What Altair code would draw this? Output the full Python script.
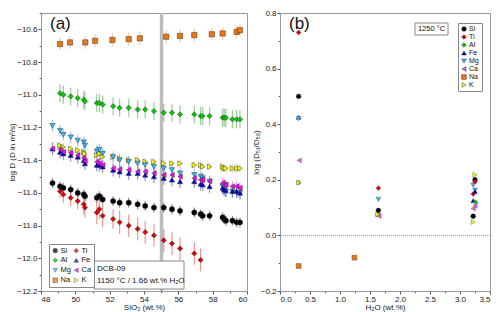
import altair as alt
import pandas as pd

FONT = "Liberation Sans"

# ---------------- Panel (a): log D vs SiO2 ----------------
sio2 = [48.67, 49.11, 49.30, 49.73, 50.14, 50.49, 50.56, 51.25, 51.40, 51.59,
        52.20, 52.58, 53.11, 53.63, 54.07, 54.58, 55.15, 55.63, 56.10, 56.93,
        57.30, 57.42, 57.82, 58.58, 58.67, 58.77, 59.15, 59.40, 59.59]

si = [-11.54, -11.56, -11.57, -11.58, -11.60, -11.61, -11.62, -11.63, -11.62, -11.64,
      -11.65, -11.66, -11.66, -11.67, -11.68, -11.69, -11.69, -11.70, -11.71, -11.72,
      -11.73, -11.74, -11.74, -11.75, -11.76, -11.77, -11.77, -11.78, -11.78]
ti = [-11.59, -11.61, -11.63, -11.65, -11.67, -11.69, -11.72, -11.70, -11.74, -11.76,
      -11.78, -11.80, -11.82, -11.84, -11.86, -11.89, -11.91, -11.94, -11.97, -12.01]
ti_err = [0.04, 0.05, 0.05, 0.05, 0.06, 0.06, 0.07, 0.06, 0.07, 0.06,
          0.07, 0.07, 0.07, 0.07, 0.07, 0.07, 0.07, 0.07, 0.07, 0.07]
al = [-10.99, -11.00, -11.01, -11.02, -11.03, -11.04, -11.05, -11.05, -11.06,
      -11.07, -11.08, -11.08, -11.09, -11.09, -11.10, -11.11, -11.11, -11.12, -11.12,
      -11.13, -11.13, -11.13, -11.14, -11.14, -11.14, -11.15, -11.15, -11.15]
fe = [-11.33, -11.35, -11.36, -11.37, -11.38, -11.40, -11.42, -11.43, -11.43, -11.44,
      -11.46, -11.47, -11.48, -11.48, -11.49, -11.50, -11.51, -11.52, -11.53, -11.53,
      -11.545, -11.55, -11.56, -11.57, -11.58, -11.585, -11.59, -11.59, -11.60]
mg = [-11.19, -11.22, -11.245, -11.26, -11.28, -11.29, -11.31, -11.345, -11.335, -11.36,
      -11.38, -11.40, -11.41, -11.42, -11.43, -11.44, -11.45, -11.46, -11.48, -11.49,
      -11.50, -11.51, -11.53, -11.56, -11.58, -11.59, -11.59, -11.60, -11.60]
ca = [-11.33, -11.335, -11.35, -11.355, -11.37, -11.385, -11.405, -11.41, -11.42, -11.43,
      -11.45, -11.455, -11.46, -11.47, -11.47, -11.48, -11.49, -11.49, -11.50, -11.51,
      -11.52, -11.52, -11.53, -11.54, -11.55, -11.55, -11.56, -11.56, -11.57]
k = [-11.31, -11.32, -11.33, -11.34, -11.35, -11.36, -11.37, -11.36, -11.38,
     -11.38, -11.39, -11.40, -11.40, -11.41, -11.41, -11.42, -11.42, -11.42, -11.43,
     -11.43, -11.44, -11.44, -11.44, -11.45, -11.45, -11.45, -11.45, -11.45]
na_sio2 = [49.11, 49.69, 50.58, 51.15, 52.16, 53.11, 53.76, 55.29, 56.10, 56.93,
           57.95, 58.58, 59.40, 59.59]
na = [-10.69, -10.68, -10.68, -10.67, -10.665, -10.66, -10.655, -10.645, -10.64, -10.635,
      -10.63, -10.625, -10.615, -10.605]

errs = {"Si": 0.03, "Al": 0.055, "Fe": 0.04, "Mg": 0.035, "Ca": 0.03, "Na": 0.04, "K": 0.025}
band_sio2 = 55.02

# ---------------- Panel (b): log(D51/D59) vs H2O ----------------
b_elem = ["Ti", "Si", "Fe", "Mg", "Ca", "Al", "K", "Na",
          "Na",
          "Ti", "Mg", "Si", "Fe", "Al", "K", "Ca",
          "Mg", "Ti", "Fe", "Ca", "Si", "K",
          "K", "Si", "Ti", "Mg", "Fe", "Al", "Ca"]
b_h2o = [0.31, 0.31, 0.31, 0.31, 0.32, 0.31, 0.31, 0.31,
         1.24,
         1.64, 1.64, 1.64, 1.64, 1.63, 1.63, 1.65,
         3.22, 3.22, 3.22, 3.22, 3.22, 3.22,
         3.25, 3.25, 3.25, 3.25, 3.25, 3.26, 3.25]
b_val = [0.73, 0.50, 0.425, 0.42, 0.27, 0.19, 0.19, -0.11,
         -0.08,
         0.17, 0.13, 0.09, 0.078, 0.075, 0.075, 0.07,
         0.181, 0.149, 0.125, 0.097, 0.069, 0.048,
         0.218, 0.20, 0.193, 0.163, 0.158, 0.119, 0.107]

# axis tick values (major + minor)
xa_ticks = [48, 49, 50, 51, 52, 53, 54, 55, 56, 57, 58, 59, 60]
ya_ticks = [-10.5, -10.6, -10.7, -10.8, -10.9, -11.0, -11.1, -11.2, -11.3, -11.4, -11.5,
            -11.6, -11.7, -11.8, -11.9, -12.0, -12.1, -12.2]
xb_ticks = [0, 0.25, 0.5, 0.75, 1.0, 1.25, 1.5, 1.75, 2.0, 2.25, 2.5, 2.75, 3.0, 3.25, 3.5]
yb_ticks = [-0.2, -0.1, 0.0, 0.1, 0.2, 0.3, 0.4, 0.5, 0.6, 0.7, 0.8]

elements = ["Si", "Ti", "Al", "Fe", "Mg", "Ca", "Na", "K"]
shapes = ["circle", "diamond", "diamond", "triangle-up", "triangle-down",
          "triangle-left", "square", "triangle-right"]
colors_a = ["#000000", "#e00000", "#00cc00", "#0000cc", "#33bbff", "#ff00ff", "#ee7711", "#ffff00"]
colors_b = ["#000000", "#e00000", "#00cc00", "#0000dd", "#33bbff", "#dd66dd", "#ee7711", "#ffff00"]
err_colors = {"Si": "#666666", "Ti": "#f07070", "Al": "#70c070", "Fe": "#7070d8",
              "Mg": "#70b8f0", "Ca": "#e070e0", "Na": "#f8b880", "K": "#c8c8a8"}

rows = []
def add(el, xs, ys, es):
    for x, y, e in zip(xs, ys, es):
        rows.append({"element": el, "sio2": x, "logD": y, "lo": y - e, "hi": y + e,
                     "ecolor": err_colors[el]})

add("Na", na_sio2, na, [errs["Na"]] * len(na))
add("Al", sio2[1:], al, [errs["Al"]] * len(al))
add("K", sio2[1:], k, [errs["K"]] * len(k))
add("Mg", sio2, mg, [errs["Mg"]] * len(mg))
add("Fe", sio2, fe, [errs["Fe"]] * len(fe))
add("Ca", sio2, ca, [errs["Ca"]] * len(ca))
add("Si", sio2, si, [errs["Si"]] * len(si))
add("Ti", sio2[1:21], ti, ti_err)
df_a = pd.DataFrame(rows)

df_b = pd.DataFrame({"element": b_elem, "h2o": b_h2o, "val": b_val})
one = pd.DataFrame({"d": [0]})

W_A, W_B, H = 206, 210, 278

xs_a = alt.Scale(domain=[48, 60], nice=False, zero=False)
ys_a = alt.Scale(domain=[-12.2, -10.5], nice=False, zero=False)
xs_b = alt.Scale(domain=[0, 3.5], nice=False, zero=False)
ys_b = alt.Scale(domain=[-0.2, 0.8], nice=False, zero=False)


def axis(values, fmt, title, major_test):
    return alt.Axis(values=values, format=fmt, title=title,
                    labelExpr=f"({major_test}) ? datum.label : ''",
                    tickSize={"condition": {"test": f"!({major_test})", "value": 1.8}, "value": 3})


ax_xa = axis(xa_ticks, "d", "SiO₂ (wt.%)", "datum.value % 2 == 0")
ax_ya = axis(ya_ticks, ".1f", "log D (D in m²/s)", "round(datum.value * 10) % 2 == 0")
ax_xb = axis(xb_ticks, ".1f", "H₂O (wt.%)", "round(datum.value * 4) % 2 == 0")
ax_yb = axis(yb_ticks, ".1f", "log (D₅₁/D₅₉)", "round(datum.value * 10) % 2 == 0")


def legend(cols, x, y, rp, fs):
    return alt.Legend(title=None, orient="none", legendX=x, legendY=y, columns=cols,
                      direction="horizontal" if cols > 1 else "vertical",
                      labelFontSize=fs, labelFont=FONT, labelColor="#111",
                      symbolSize=22, symbolStrokeColor="#333", symbolStrokeWidth=0.5,
                      padding=2.5, rowPadding=rp, columnPadding=1, labelOffset=1.5,
                      strokeColor="#888", fillColor="white", labelLimit=30)

# ---- panel (a)
band = alt.Chart(pd.DataFrame({"sio2": [band_sio2]})).mark_rule(
    color="#bcbcbc", strokeWidth=3.5).encode(x=alt.X("sio2:Q", scale=xs_a, axis=ax_xa))

ebar_a = alt.Chart(df_a).mark_rule(strokeWidth=1.2, opacity=0.75).encode(
    x=alt.X("sio2:Q", scale=xs_a, axis=ax_xa),
    y=alt.Y("lo:Q", scale=ys_a, axis=ax_ya),
    y2="hi:Q",
    color=alt.Color("ecolor:N", scale=None),
)

leg_a = legend(2, 8, 231, 1, 7.5)
pts_a = alt.Chart(df_a).mark_point(filled=True, size=28, stroke="#333", strokeWidth=0.5, opacity=1).encode(
    x=alt.X("sio2:Q", scale=xs_a, axis=ax_xa),
    y=alt.Y("logD:Q", scale=ys_a, axis=ax_ya),
    color=alt.Color("element:N", scale=alt.Scale(domain=elements, range=colors_a), legend=leg_a),
    shape=alt.Shape("element:N", scale=alt.Scale(domain=elements, range=shapes), legend=leg_a),
)

box_a = alt.Chart(one).mark_rect(fill="white", stroke="#888", strokeWidth=1).encode(
    x=alt.value(53), x2=alt.value(143), y=alt.value(248), y2=alt.value(276))
txt_a = alt.Chart(one).mark_text(align="left", baseline="middle", fontSize=8, font=FONT,
                                 color="#111", lineBreak="\n", lineHeight=12).encode(
    x=alt.value(56), y=alt.value(256), text=alt.value("DCB-09\n1150 °C / 1.66 wt.% H₂O"))
lab_a = alt.Chart(one).mark_text(align="left", baseline="middle", fontSize=17, font=FONT,
                                 color="#111").encode(x=alt.value(9), y=alt.value(11), text=alt.value("(a)"))

panel_a = alt.layer(band, ebar_a, pts_a, box_a, txt_a, lab_a).properties(width=W_A, height=H)

# ---- panel (b)
zero = alt.Chart(pd.DataFrame({"val": [0.0]})).mark_rule(
    color="#999", strokeWidth=1, strokeDash=[1, 1]).encode(y=alt.Y("val:Q", scale=ys_b, axis=ax_yb))

leg_b = legend(1, 178, 10, 0, 7)
pts_b = alt.Chart(df_b).mark_point(filled=True, size=24, stroke="#444", strokeWidth=0.4, opacity=1).encode(
    x=alt.X("h2o:Q", scale=xs_b, axis=ax_xb),
    y=alt.Y("val:Q", scale=ys_b, axis=ax_yb),
    color=alt.Color("element:N", scale=alt.Scale(domain=elements, range=colors_b), legend=leg_b),
    shape=alt.Shape("element:N", scale=alt.Scale(domain=elements, range=shapes), legend=leg_b),
)
box_b = alt.Chart(one).mark_rect(fill="white", stroke="#888", strokeWidth=1).encode(
    x=alt.value(135), x2=alt.value(168), y=alt.value(10), y2=alt.value(22))
txt_b = alt.Chart(one).mark_text(align="center", baseline="middle", fontSize=7.5, font=FONT,
                                 color="#111").encode(x=alt.value(151.5), y=alt.value(16), text=alt.value("1250 °C"))
lab_b = alt.Chart(one).mark_text(align="left", baseline="middle", fontSize=17, font=FONT,
                                 color="#111").encode(x=alt.value(9), y=alt.value(11), text=alt.value("(b)"))

panel_b = alt.layer(zero, pts_b, box_b, txt_b, lab_b).properties(width=W_B, height=H)

chart = alt.hconcat(panel_a, panel_b, spacing=3).resolve_scale(
    color="independent", shape="independent").properties(
    padding={"left": 0, "top": 0, "right": 0, "bottom": 0}, background="white"
).configure_view(stroke="#999", strokeWidth=1).configure_axis(
    labelFont=FONT, titleFont=FONT, labelFontSize=8, titleFontSize=8, titleFontWeight="normal",
    labelColor="#222", titleColor="#222", tickColor="#555", domainColor="#999",
    labelPadding=1, titlePadding=0, grid=False, labelOverlap=False,
)

chart.save("out.html", embed_options={"renderer": "svg", "actions": False})
